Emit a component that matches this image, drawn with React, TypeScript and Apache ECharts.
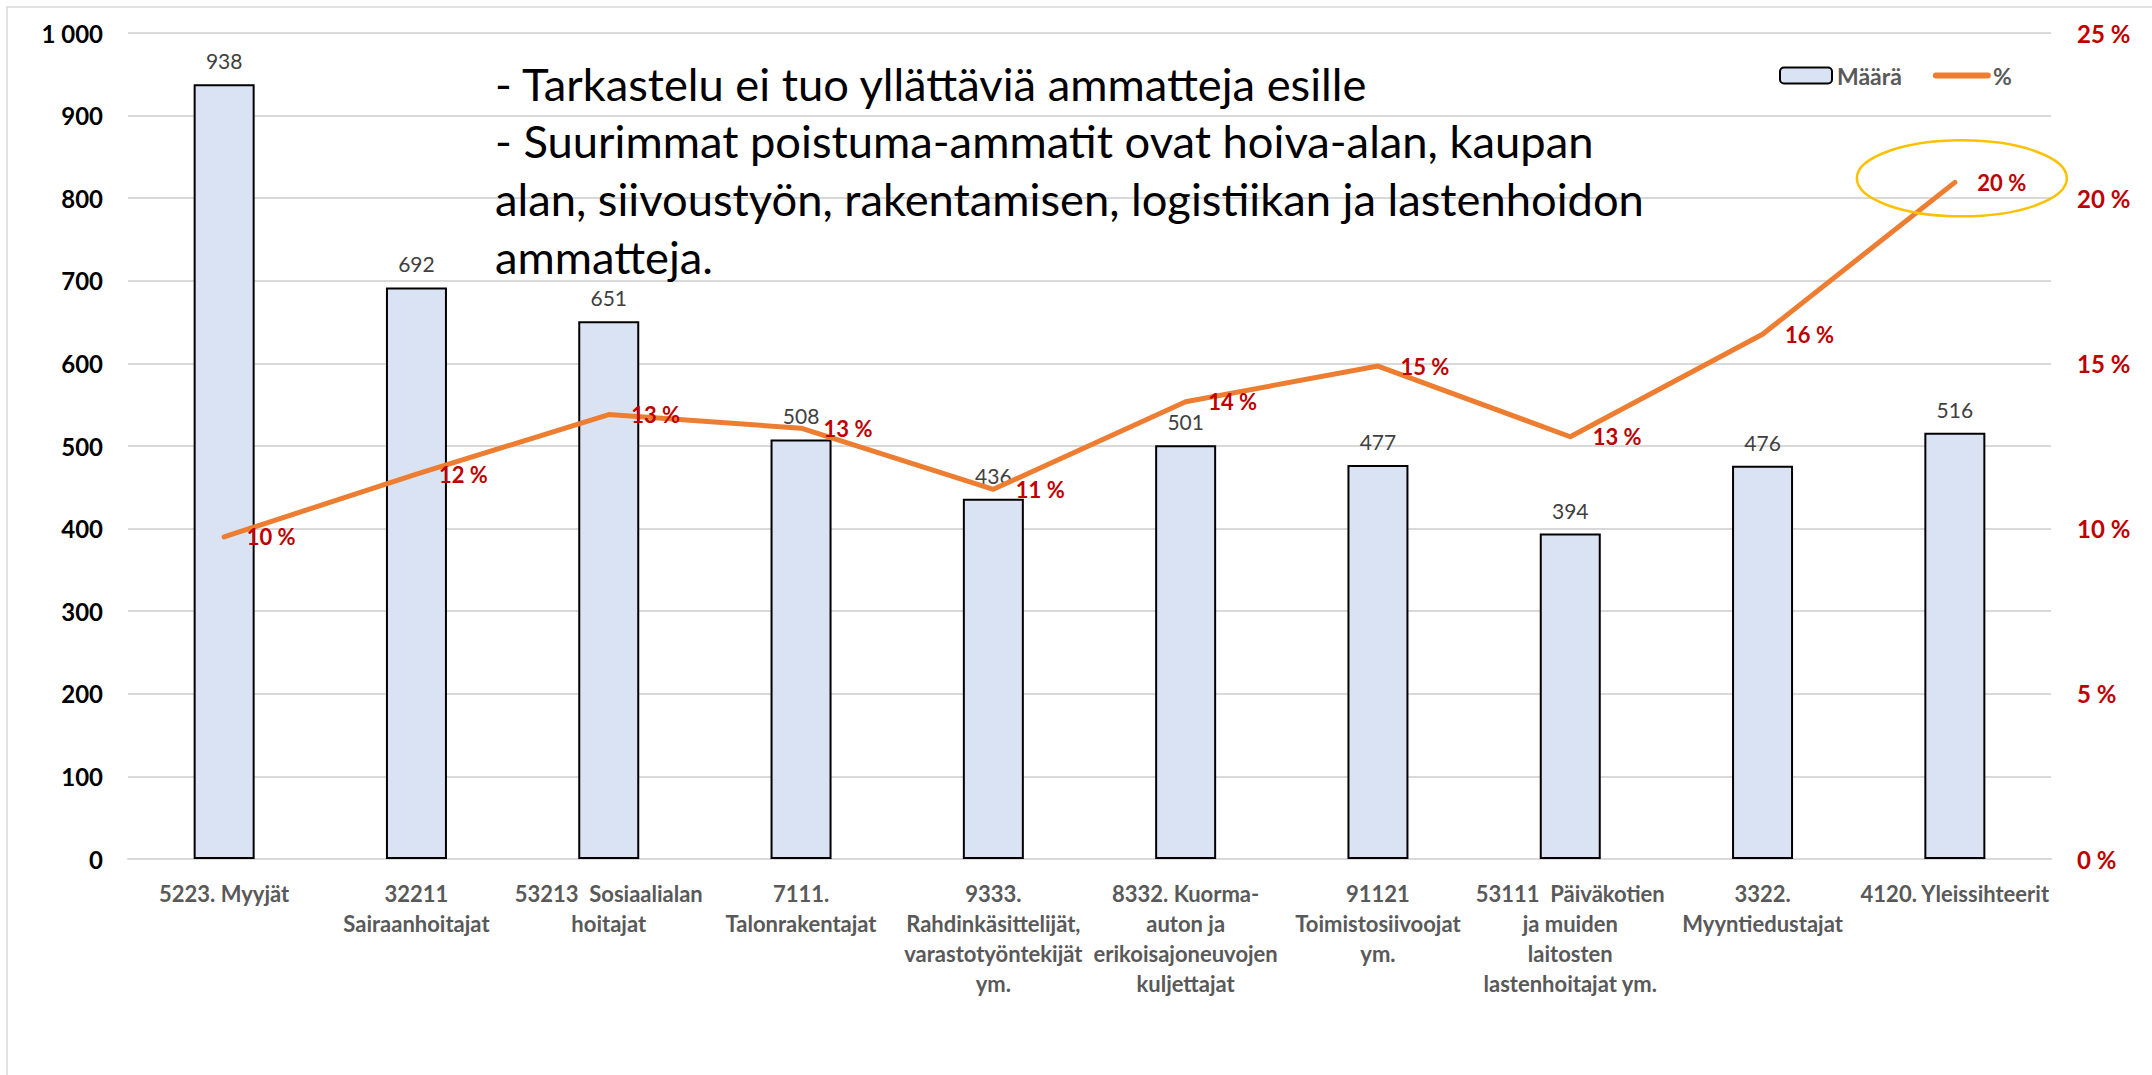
import React, { useEffect, useRef } from "react";
import * as echarts from "echarts";

// ---- data ----
const categories = [
  "5223. Myyjät",
  "32211\nSairaanhoitajat",
  "53213  Sosiaalialan\nhoitajat",
  "7111.\nTalonrakentajat",
  "9333.\nRahdinkäsittelijät,\nvarastotyöntekijät\nym.",
  "8332. Kuorma-\nauton ja\nerikoisajoneuvojen\nkuljettajat",
  "91121\nToimistosiivoojat\nym.",
  "53111  Päiväkotien\nja muiden\nlaitosten\nlastenhoitajat ym.",
  "3322.\nMyyntiedustajat",
  "4120. Yleissihteerit",
];
const counts = [938, 692, 651, 508, 436, 501, 477, 394, 476, 516];
const shares = [9.75, 11.65, 13.45, 13.04, 11.19, 13.84, 14.92, 12.78, 15.88, 20.48];
const countTicks = { min: 0, max: 1000, interval: 100 };
const shareTicks = { min: 0, max: 25, interval: 5 };
const seriesNames = ["Määrä", "%"];
const notes = [
  "- Tarkastelu ei tuo yllättäviä ammatteja esille",
  "- Suurimmat poistuma-ammatit ovat hoiva-alan, kaupan",
  "alan, siivoustyön, rakentamisen, logistiikan ja lastenhoidon",
  "ammatteja.",
];
const highlightIndex = 9;

const FONT = "Lato, 'Noto Sans', sans-serif";

function fmtThousands(v: number) {
  return String(v).replace(/\B(?=(\d{3})+(?!\d))/g, " ");
}

export default function App() {
  const ref = useRef<HTMLDivElement>(null);

  useEffect(() => {
    document.body.style.margin = "0";
    const chart = echarts.init(ref.current!, undefined, { renderer: "svg" });

    const noteFont = 45.3;
    const noteLine = 57.7;
    const baseGraphics: any[] = [
      {
        id: "frame",
        type: "rect",
        z: -10,
        silent: true,
        shape: { x: 7, y: 7, width: 2300, height: 1200 },
        style: { fill: "none", stroke: "#D9D9D9", lineWidth: 1.5 },
      },
      ...notes.map((t, i) => ({
        id: "note" + i,
        type: "text",
        z: 50,
        x: 495,
        y: 83 + i * noteLine,
        style: {
          text: t,
          font: `${noteFont}px ${FONT}`,
          fill: "#000000",
          verticalAlign: "middle",
          align: "left",
        },
      })),
    ];

    const option: any = {
      animation: false,
      backgroundColor: "#ffffff",
      textStyle: { fontFamily: FONT },
      grid: { left: 128, right: 101, top: 33, bottom: 216, containLabel: false },
      legend: {
        left: 1774,
        top: 59,
        itemWidth: 52,
        itemHeight: 16,
        itemGap: 31,
        data: seriesNames,
        lineStyle: { width: 6, cap: "round" },
        textStyle: { fontFamily: FONT, fontSize: 23, fontWeight: "bold", color: "#595959" },
      },
      xAxis: {
        type: "category",
        data: categories,
        axisTick: { show: false },
        axisLine: { lineStyle: { color: "#D9D9D9", width: 2 } },
        axisLabel: {
          interval: 0,
          color: "#595959",
          fontWeight: "bold",
          fontSize: 22,
          lineHeight: 30,
          margin: 19,
          fontFamily: FONT,
        },
      },
      yAxis: [
        {
          type: "value",
          ...countTicks,
          axisLine: { show: false },
          axisTick: { show: false },
          splitLine: { lineStyle: { color: "#D9D9D9", width: 2 } },
          axisLabel: {
            formatter: (v: number) => fmtThousands(v),
            color: "#000000",
            fontWeight: "bold",
            fontSize: 24,
            margin: 25,
            fontFamily: FONT,
          },
        },
        {
          type: "value",
          position: "right",
          ...shareTicks,
          axisLine: { show: false },
          axisTick: { show: false },
          splitLine: { show: false },
          axisLabel: {
            formatter: "{value} %",
            color: "#C00000",
            fontWeight: "bold",
            fontSize: 24,
            margin: 26,
            fontFamily: FONT,
          },
        },
      ],
      series: [
        {
          name: seriesNames[0],
          type: "bar",
          data: counts,
          barWidth: 61,
          itemStyle: { color: "#DAE3F3", borderColor: "#000000", borderWidth: 2 },
          label: {
            show: true,
            position: "top",
            distance: 13,
            color: "#404040",
            fontSize: 21,
            fontFamily: FONT,
          },
        },
        {
          name: seriesNames[1],
          type: "line",
          yAxisIndex: 1,
          data: shares,
          symbol: "circle",
          symbolSize: 1,
          showSymbol: true,
          z: 5,
          lineStyle: { color: "#ED7D31", width: 5, cap: "round", join: "round" },
          itemStyle: { color: "rgba(0,0,0,0)", borderWidth: 0 },
          label: {
            show: true,
            position: "right",
            distance: 22,
            formatter: (p: any) => Math.round(p.value) + " %",
            color: "#C00000",
            fontWeight: "bold",
            fontSize: 22,
            fontFamily: FONT,
          },
        },
      ],
      graphic: baseGraphics,
    };

    chart.setOption(option);

    const pt = chart.convertToPixel({ xAxisIndex: 0, yAxisIndex: 1 }, [
      highlightIndex,
      shares[highlightIndex],
    ]) as number[];
    if (pt && isFinite(pt[0])) {
      chart.setOption({
        graphic: [
          ...baseGraphics,
          {
            id: "ring",
            type: "ellipse",
            z: 60,
            silent: true,
            shape: { cx: pt[0] + 7, cy: pt[1] - 4, rx: 105, ry: 38 },
            style: { fill: "none", stroke: "#FFC000", lineWidth: 2.5 },
          },
        ],
      });
    }

    return () => chart.dispose();
  }, []);

  return <div ref={ref} style={{ width: 2152, height: 1075 }} />;
}
